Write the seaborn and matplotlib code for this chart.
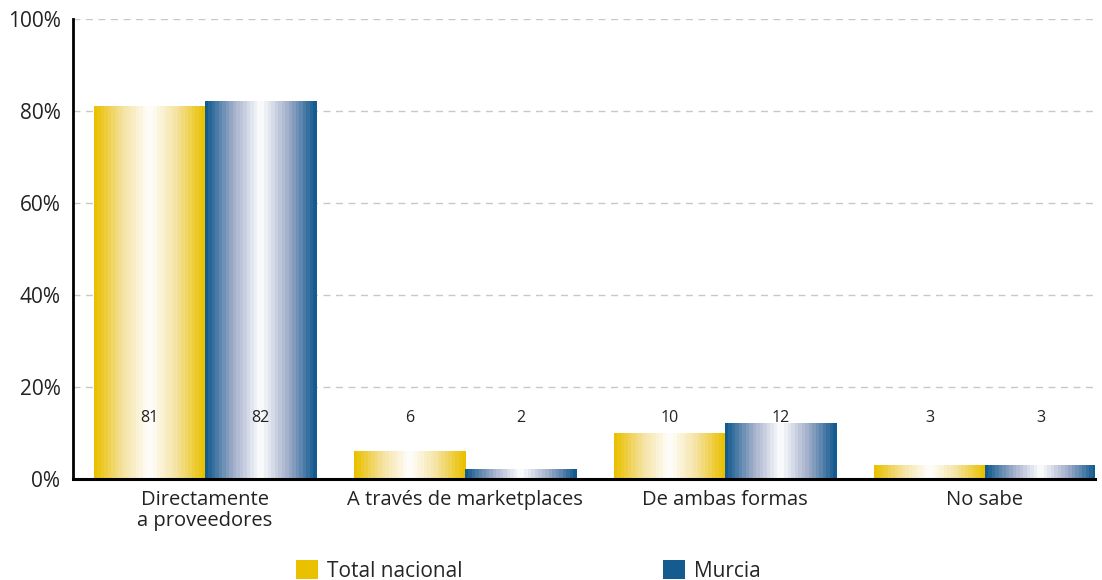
import numpy as np
import pandas as pd
import matplotlib
matplotlib.use('Agg')
import matplotlib.pyplot as plt
import seaborn as sns
from matplotlib.colors import LinearSegmentedColormap
from matplotlib.patches import Patch

categorias = ['Directamente\na proveedores', 'A través de marketplaces', 'De ambas formas', 'No sabe']
series = ['Total nacional', 'Murcia']
total_nacional = [81, 6, 10, 3]
murcia = [82, 2, 12, 3]
colores = {'Total nacional': '#E9C100', 'Murcia': '#145C8F'}
medios = {'Total nacional': '#F5E2A0', 'Murcia': '#A3AFCB'}

df = pd.DataFrame({
    'categoria': categorias * 2,
    'serie': [series[0]] * 4 + [series[1]] * 4,
    'valor': total_nacional + murcia,
})

sns.set_style('white')
plt.rcParams['font.family'] = ['Open Sans', 'DejaVu Sans']

fig = plt.figure(figsize=(11.02, 5.8), dpi=100)
ax = fig.add_axes([0.0662, 0.1741, 0.9274, 0.7931])

sns.barplot(data=df, x='categoria', y='valor', hue='serie', hue_order=series,
            palette=colores, width=0.854, ax=ax, legend=False, saturation=1)

# relleno degradado por barra (borde - blanco - borde, en bandas)
def cmap_serie(s):
    c = colores[s]
    return LinearSegmentedColormap.from_list(s, [c, medios[s], 'white', medios[s], c])

n_bandas = 32
grad = np.linspace(0, 1, n_bandas).reshape(1, -1)
for cont, s in zip(ax.containers, series):
    for p in cont.patches:
        x0, y0 = p.get_x(), p.get_y()
        w, h = p.get_width(), p.get_height()
        ax.imshow(grad, cmap=cmap_serie(s), aspect='auto', interpolation='nearest',
                  extent=[x0, x0 + w, y0, y0 + h], zorder=2)
        p.set_facecolor('none')
        p.set_edgecolor('none')
    # etiquetas de valor a altura fija
    for p, v in zip(cont.patches, cont.datavalues):
        ax.text(p.get_x() + p.get_width() / 2, 13.3, f'{v:.0f}', ha='center', va='center',
                fontsize=11.5, color='#222222', zorder=4)

ax.set_xlim(-0.508, 3.423)
ax.set_ylim(0, 100)
ax.set_yticks([0, 20, 40, 60, 80, 100])
ax.set_yticklabels([f'{t}%' for t in [0, 20, 40, 60, 80, 100]], fontsize=15, color='#222222')
ax.tick_params(axis='x', labelsize=14.5, colors='#222222', length=0, pad=8)
ax.tick_params(axis='y', length=0, pad=9)
for lbl in ax.get_xticklabels():
    lbl.set_linespacing(1.05)
ax.set_xlabel('')
ax.set_ylabel('')
ax.yaxis.grid(True, linestyle=(0, (5, 4)), color='#C8C8C8', linewidth=1)
ax.set_axisbelow(True)
for lado in ['top', 'right']:
    ax.spines[lado].set_visible(False)
ax.spines['left'].set_linewidth(2)
ax.spines['left'].set_color('black')
ax.spines['bottom'].set_linewidth(2.2)
ax.spines['bottom'].set_color('black')

handles = [Patch(facecolor=colores[s], edgecolor='none', label=s) for s in series]
fig.legend(handles=handles, loc='center left', bbox_to_anchor=(0.2686, 0.0155), ncol=2,
           frameon=False, fontsize=15, handlelength=1.05, handleheight=1.05,
           handletextpad=0.45, columnspacing=9.6, borderaxespad=0, borderpad=0)

fig.savefig('out.png', dpi=100)
